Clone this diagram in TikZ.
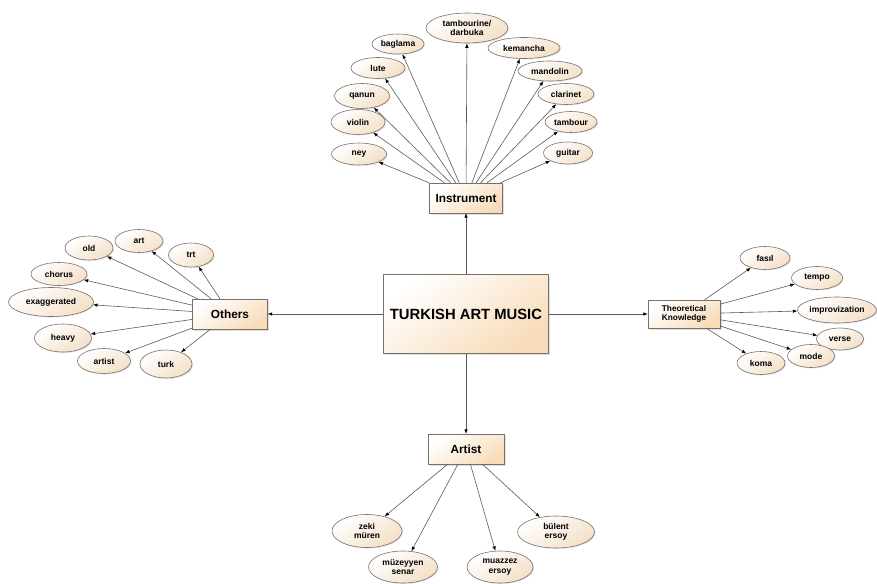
\documentclass[tikz,border=0pt]{standalone}
\usepackage{fontspec}
\setmainfont{Liberation Sans}
\usepackage{xcolor}
\usetikzlibrary{positioning,arrows.meta,shapes.geometric,shadows}

\definecolor{peach}{HTML}{F8DCBA}
\definecolor{cream}{HTML}{F4E0C8}
\definecolor{edgegray}{HTML}{7A706A}
\definecolor{linegray}{HTML}{5A5A5A}

\begin{document}
\begin{tikzpicture}[
    x=1pt, y=-1pt,
    >={Latex[length=4.5pt,width=3.5pt,color=black]},
    core/.style={rectangle, draw=edgegray, top color=white, bottom color=peach, shading angle=35, minimum width=165pt, minimum height=79pt, font=\bfseries\fontsize{14.8}{16}\selectfont, drop shadow={shadow xshift=1.5pt, shadow yshift=-1.5pt, opacity=0.25}},
    topic/.style={rectangle, draw=edgegray, top color=white, bottom color=peach, shading angle=35, minimum width=74pt, minimum height=30pt, inner sep=1pt, font=\bfseries\fontsize{11.8}{13}\selectfont, align=center, drop shadow={shadow xshift=1.5pt, shadow yshift=-1.5pt, opacity=0.25}},
    leaf/.style={ellipse, draw=edgegray, line width=0.6pt, top color=white, bottom color=cream, shading angle=35, minimum width=52pt, minimum height=22pt, inner sep=0pt, font=\bfseries\fontsize{8.5}{9.5}\selectfont, align=center, drop shadow={shadow xshift=1pt, shadow yshift=-1pt, opacity=0.2}},
    arrow/.style={->, draw=linegray, line width=0.6pt}
]
\useasboundingbox (0,0) rectangle (877,583);

% centre and the four topics
\node[core] (main) at (466,314) {TURKISH ART MUSIC};
\node[topic, minimum width=73pt] (instr) at (466,198) {Instrument};
\node[topic, minimum width=75pt] (others) at (230,314) {Others};
\node[topic, minimum width=72pt, minimum height=28pt, font=\bfseries\fontsize{8.3}{9.5}\selectfont] (theory) at (684,314) {Theoretical\\Knowledge};
\node[topic, minimum width=76pt] (artists) at (466,449) {Artist};

\draw[arrow] (main) -- (instr);
\draw[arrow] (main) -- (others);
\draw[arrow] (main) -- (theory);
\draw[arrow] (main) -- (artists);

% instruments
\node[leaf, minimum width=82pt, minimum height=30pt] (tamb) at (467,28) {tambourine/\\darbuka};
\node[leaf, minimum height=20pt] (baglama) at (398,44) {baglama};
\node[leaf, minimum width=72pt, minimum height=21pt] (kemancha) at (524,48) {kemancha};
\node[leaf, minimum width=54pt, minimum height=21pt] (lute) at (378,68) {lute};
\node[leaf, minimum width=64pt, minimum height=20pt] (mandolin) at (550,71) {mandolin};
\node[leaf, minimum width=55pt, minimum height=25pt] (qanun) at (362,96) {qanun};
\node[leaf, minimum width=56pt, minimum height=21pt] (clarinet) at (566,94) {clarinet};
\node[leaf, minimum width=54pt, minimum height=25pt] (violin) at (358,122) {violin};
\node[leaf, minimum height=21pt] (tambour) at (571,122) {tambour};
\node[leaf, minimum width=55pt] (ney) at (359,154) {ney};
\node[leaf, minimum width=49pt] (guitar) at (568,153) {guitar};

\draw[arrow] (instr) -- (tamb);
\draw[arrow] (instr) -- (baglama);
\draw[arrow] (instr) -- (kemancha);
\draw[arrow] (instr) -- (lute);
\draw[arrow] (instr) -- (mandolin);
\draw[arrow] (instr) -- (qanun);
\draw[arrow] (instr) -- (clarinet);
\draw[arrow] (instr) -- (violin);
\draw[arrow] (instr) -- (tambour);
\draw[arrow] (instr) -- (ney);
\draw[arrow] (instr) -- (guitar);

% others
\node[leaf, minimum width=48pt, minimum height=24pt] (old) at (89,248) {old};
\node[leaf, minimum width=48pt, minimum height=23pt] (art) at (139,241) {art};
\node[leaf, minimum width=45pt, minimum height=24pt] (trt) at (191,255) {trt};
\node[leaf, minimum width=56pt, minimum height=23pt] (chorus) at (59,274) {chorus};
\node[leaf, minimum width=85pt, minimum height=29pt] (exag) at (51,302) {exaggerated};
\node[leaf, minimum width=57pt, minimum height=28pt] (heavy) at (63,338) {heavy};
\node[leaf, minimum width=53pt, minimum height=25pt] (artistw) at (104,361) {artist};
\node[leaf, minimum width=52pt, minimum height=28pt] (turk) at (166,364) {turk};

\draw[arrow] (others) -- (old);
\draw[arrow] (others) -- (art);
\draw[arrow] (others) -- (trt);
\draw[arrow] (others) -- (chorus);
\draw[arrow] (others) -- (exag);
\draw[arrow] (others) -- (heavy);
\draw[arrow] (others) -- (artistw);
\draw[arrow] (others) -- (turk);

% theoretical knowledge
\node[leaf, minimum width=50pt, minimum height=23pt] (fasil) at (765,258) {fasıl};
\node[leaf, minimum width=51pt, minimum height=23pt] (tempo) at (817,278) {tempo};
\node[leaf, minimum width=79pt, minimum height=26pt] (improv) at (837,310) {improvization};
\node[leaf, minimum width=47pt] (verse) at (840,339) {verse};
\node[leaf, minimum width=47pt, minimum height=23pt] (mode) at (811,356) {mode};
\node[leaf, minimum width=48pt, minimum height=23pt] (koma) at (761,363) {koma};

\draw[arrow] (theory) -- (fasil);
\draw[arrow] (theory) -- (tempo);
\draw[arrow] (theory) -- (improv);
\draw[arrow] (theory) -- (verse);
\draw[arrow] (theory) -- (mode);
\draw[arrow] (theory) -- (koma);

% artists
\node[leaf, minimum width=70pt, minimum height=33pt] (zeki) at (367,531) {zeki\\müren};
\node[leaf, minimum width=69pt, minimum height=32pt] (muzeyyen) at (403,567) {müzeyyen\\senar};
\node[leaf, minimum width=66pt, minimum height=32pt] (muazzez) at (500,567) {muazzez\\ersoy};
\node[leaf, minimum width=77pt, minimum height=32pt] (bulent) at (556,532) {bülent\\ersoy};

\draw[arrow] (artists) -- (zeki);
\draw[arrow] (artists) -- (muzeyyen);
\draw[arrow] (artists) -- (muazzez);
\draw[arrow] (artists) -- (bulent);
\end{tikzpicture}
\end{document}
